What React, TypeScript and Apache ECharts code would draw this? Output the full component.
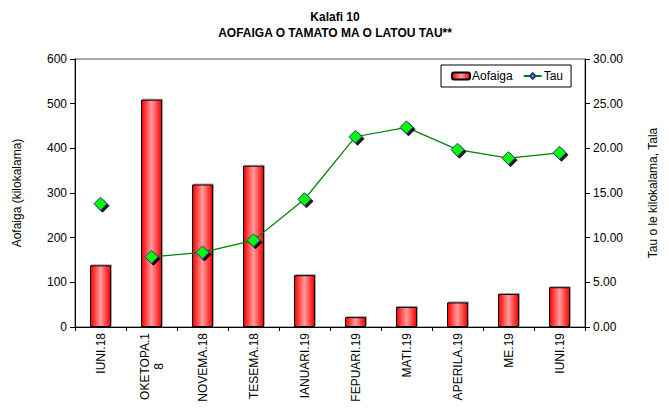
import React, { useEffect, useRef } from "react";
import * as echarts from "echarts";

const CATEGORIES = ["IUNI.18", "OKETOPA.18", "NOVEMA.18", "TESEMA.18", "IANUARI.19", "FEPUARI.19", "MATI.19", "APERILA.19", "ME.19", "IUNI.19"];
const AOFAIGA = [138, 509, 319, 361, 116, 22, 45, 55, 74, 89];
// Tau: first point stands alone (no connecting line), the rest are joined
const TAU_ALONE = [13.8, null, null, null, null, null, null, null, null, null];
const TAU_LINE = [null, 7.85, 8.35, 9.7, 14.3, 21.3, 22.35, 19.85, 18.9, 19.5];
const LEFT_TICKS = { min: 0, max: 600, interval: 100 };
const RIGHT_TICKS = { min: 0, max: 30, interval: 5 };

const FONT = 'Arial, "Liberation Sans", sans-serif';
const LABEL_MAX_WIDTH = 71;

let measureCtx: CanvasRenderingContext2D | null = null;
function wrapLabel(text: string): string {
  if (!measureCtx) {
    measureCtx = document.createElement("canvas").getContext("2d");
  }
  if (!measureCtx) return text;
  measureCtx.font = `12px ${FONT}`;
  if (measureCtx.measureText(text).width <= LABEL_MAX_WIDTH) return text;
  const lines: string[] = [];
  let cur = "";
  for (const ch of text) {
    if (cur && measureCtx.measureText(cur + ch).width > LABEL_MAX_WIDTH) {
      lines.push(cur);
      cur = ch;
    } else {
      cur += ch;
    }
  }
  if (cur) lines.push(cur);
  return lines.map((l) => `{c|${l}}`).join("\n");
}

export default function App() {
  const ref = useRef<HTMLDivElement>(null);
  useEffect(() => {
    if (!ref.current) return;
    const chart = echarts.init(ref.current, undefined, { renderer: "svg" });
    const barColor = new echarts.graphic.LinearGradient(0, 0, 1, 0, [
      { offset: 0, color: "#ff0000" },
      { offset: 0.5, color: "#ff9a9a" },
      { offset: 1, color: "#ff0000" },
    ]);
    const markerStyle = {
      color: "#00ff00",
      borderColor: "#333399",
      borderWidth: 1,
      shadowColor: "rgba(0,0,0,0.9)",
      shadowOffsetX: 2,
      shadowOffsetY: 2,
      shadowBlur: 0,
    };
    chart.setOption({
      animation: false,
      backgroundColor: "#ffffff",
      textStyle: { fontFamily: FONT, color: "#000" },
      title: {
        text: "Kalafi 10\nAOFAIGA O TAMATO MA O LATOU TAU**",
        left: 330,
        top: 4,
        textAlign: "center",
        textStyle: { fontSize: 12, fontWeight: "bold", lineHeight: 16, fontFamily: FONT, color: "#000" },
      },
      legend: {
        data: ["Aofaiga", "Tau"],
        left: 441,
        top: 65,
        width: 134,
        height: 22,
        padding: [5, 8, 5, 10],
        itemGap: 10,
        itemWidth: 18,
        itemHeight: 7,
        borderColor: "#000",
        borderWidth: 1,
        backgroundColor: "#fff",
        textStyle: { fontSize: 12, fontFamily: FONT, color: "#000", padding: [0, 0, 0, -3] },
      },
      grid: {
        left: 75,
        right: 84,
        top: 59,
        bottom: 85,
        show: true,
        borderColor: "#555",
        borderWidth: 1,
      },
      xAxis: {
        type: "category",
        data: CATEGORIES,
        boundaryGap: true,
        axisLine: { lineStyle: { color: "#000", width: 1 } },
        axisTick: { show: true, interval: 0, length: 4, lineStyle: { color: "#000" } },
        axisLabel: {
          interval: 0,
          rotate: 90,
          margin: 6,
          fontSize: 12,
          fontFamily: FONT,
          color: "#000",
          lineHeight: 14,
          formatter: (v: string) => wrapLabel(v),
          rich: {
            c: { align: "center", fontSize: 12, fontFamily: FONT, color: "#000", lineHeight: 14 },
          },
        },
      },
      yAxis: [
        {
          type: "value",
          ...LEFT_TICKS,
          name: "Aofaiga (kilokalama)",
          nameLocation: "middle",
          nameGap: 52,
          nameTextStyle: { fontSize: 12, fontFamily: FONT, color: "#000" },
          axisLine: { show: true, lineStyle: { color: "#000" } },
          axisTick: { show: true, length: 5, lineStyle: { color: "#000" } },
          axisLabel: { fontSize: 12, fontFamily: FONT, color: "#000", margin: 8 },
          splitLine: { show: false },
        },
        {
          type: "value",
          ...RIGHT_TICKS,
          name: "Tau o le kilokalama, Tala",
          nameLocation: "middle",
          nameGap: 62,
          nameRotate: 90,
          nameTextStyle: { fontSize: 12, fontFamily: FONT, color: "#000" },
          axisLine: { show: true, lineStyle: { color: "#000" } },
          axisTick: { show: true, length: 5, lineStyle: { color: "#000" } },
          axisLabel: {
            fontSize: 12,
            fontFamily: FONT,
            color: "#000",
            margin: 8,
            formatter: (v: number) => v.toFixed(2),
          },
          splitLine: { show: false },
        },
      ],
      series: [
        {
          name: "Aofaiga",
          type: "bar",
          data: AOFAIGA,
          yAxisIndex: 0,
          barWidth: 21,
          itemStyle: {
            color: barColor,
            borderColor: "#000",
            borderWidth: 1,
            shadowColor: "rgba(0,0,0,0.35)",
            shadowOffsetX: 1,
            shadowOffsetY: -1,
          },
        },
        {
          name: "Tau",
          type: "line",
          data: TAU_LINE,
          yAxisIndex: 1,
          symbol: "diamond",
          symbolSize: 13,
          showAllSymbol: true,
          connectNulls: false,
          lineStyle: { color: "#008000", width: 1.2 },
          itemStyle: markerStyle,
          z: 5,
        },
        {
          name: "Tau",
          type: "line",
          data: TAU_ALONE,
          yAxisIndex: 1,
          symbol: "diamond",
          symbolSize: 13,
          showAllSymbol: true,
          lineStyle: { color: "#008000", width: 1.2 },
          itemStyle: markerStyle,
          z: 5,
        },
      ],
    });
    return () => chart.dispose();
  }, []);
  return (
    <div
      ref={ref}
      style={{ position: "absolute", left: 0, top: 0, width: 669, height: 412, background: "#fff" }}
    />
  );
}
